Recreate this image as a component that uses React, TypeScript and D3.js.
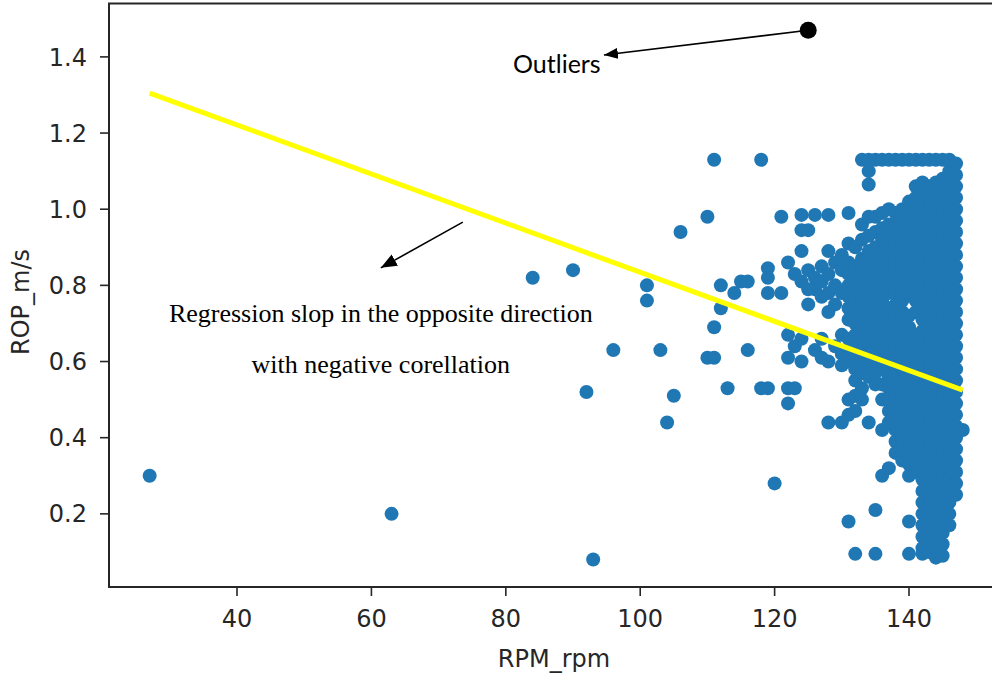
import React from 'react';
import * as d3 from 'd3';

const xTicks = [40, 60, 80, 100, 120, 140];
const yTicks = [0.2, 0.4, 0.6, 0.8, 1.0, 1.2, 1.4];
const xLabel = 'RPM_rpm';
const yLabel = 'ROP_m/s';

// isolated / loosely scattered observations
const sparseRpm = [27, 63, 84, 90, 92, 93, 96, 101, 101, 103, 104, 105, 106, 110, 111, 118, 110, 111, 111, 112, 112, 113, 114, 115, 116, 116, 118, 119, 119, 119, 119, 120, 121, 121, 122, 122, 123, 122, 124, 126, 128, 124, 125, 124, 128, 125, 128, 123, 124, 125, 126, 126, 127, 127, 128, 128, 129, 129, 130, 130, 130, 125, 127, 129, 122, 123, 124, 122, 124, 126, 127, 128, 129, 130, 130, 127, 130, 128, 130];
const sparseRop = [0.30, 0.20, 0.82, 0.84, 0.52, 0.08, 0.63, 0.80, 0.76, 0.63, 0.44, 0.51, 0.94, 0.98, 1.13, 1.13, 0.61, 0.61, 0.69, 0.80, 0.74, 0.53, 0.78, 0.81, 0.81, 0.63, 0.53, 0.53, 0.845, 0.82, 0.78, 0.28, 0.78, 0.98, 0.86, 0.53, 0.53, 0.49, 0.985, 0.985, 0.985, 0.945, 0.945, 0.89, 0.89, 0.75, 0.73, 0.83, 0.81, 0.84, 0.82, 0.79, 0.85, 0.81, 0.83, 0.78, 0.86, 0.80, 0.84, 0.78, 0.88, 0.79, 0.77, 0.75, 0.67, 0.64, 0.66, 0.61, 0.60, 0.63, 0.66, 0.60, 0.64, 0.62, 0.67, 0.61, 0.59, 0.44, 0.44];

// dense block of observations, listed per RPM value
const denseRpm = [131, 132, 133, 134, 135, 136, 137, 138, 139, 140, 141, 142, 143, 144, 145, 146, 147, 148];
const denseRop = [
  [0.99, 0.91, 0.86, 0.83, 0.8, 0.77, 0.74, 0.71, 0.66, 0.63, 0.6, 0.5, 0.46, 0.18],
  [0.9, 0.85, 0.82, 0.79, 0.76, 0.73, 0.7, 0.67, 0.64, 0.61, 0.58, 0.55, 0.51, 0.47, 0.095],
  [1.13, 0.96, 0.92, 0.87, 0.84, 0.81, 0.78, 0.75, 0.72, 0.69, 0.66, 0.63, 0.6, 0.57, 0.53, 0.5],
  [1.13, 1.1, 1.065, 0.98, 0.93, 0.89, 0.86, 0.83, 0.8, 0.77, 0.74, 0.71, 0.68, 0.65, 0.62, 0.59, 0.56, 0.44],
  [1.13, 0.98, 0.94, 0.9, 0.87, 0.84, 0.81, 0.78, 0.75, 0.72, 0.69, 0.66, 0.63, 0.6, 0.57, 0.54, 0.21, 0.095],
  [1.13, 0.99, 0.95, 0.92, 0.88, 0.85, 0.82, 0.79, 0.76, 0.73, 0.7, 0.67, 0.64, 0.61, 0.58, 0.54, 0.5, 0.42, 0.3],
  [1.13, 1.0, 0.96, 0.93, 0.9, 0.87, 0.84, 0.81, 0.78, 0.74, 0.71, 0.68, 0.65, 0.62, 0.59, 0.56, 0.53, 0.5, 0.47, 0.44, 0.32],
  [1.13, 0.99, 0.96, 0.93, 0.9, 0.87, 0.84, 0.81, 0.78, 0.75, 0.72, 0.69, 0.66, 0.63, 0.6, 0.57, 0.54, 0.51, 0.48, 0.45, 0.42, 0.39, 0.36],
  [1.13, 1.0, 0.97, 0.94, 0.91, 0.88, 0.85, 0.82, 0.79, 0.76, 0.73, 0.7, 0.67, 0.64, 0.61, 0.58, 0.55, 0.52, 0.49, 0.46, 0.43, 0.4, 0.37, 0.34],
  [1.13, 1.02, 0.99, 0.96, 0.93, 0.9, 0.87, 0.84, 0.81, 0.78, 0.72, 0.69, 0.66, 0.63, 0.6, 0.57, 0.54, 0.51, 0.48, 0.45, 0.42, 0.39, 0.36, 0.33, 0.3, 0.18, 0.095],
  [1.13, 1.06, 1.03, 1.0, 0.97, 0.94, 0.91, 0.88, 0.85, 0.82, 0.79, 0.76, 0.73, 0.67, 0.64, 0.61, 0.58, 0.55, 0.52, 0.49, 0.46, 0.43, 0.4, 0.37, 0.34, 0.31],
  [1.13, 1.07, 1.04, 1.01, 0.98, 0.95, 0.92, 0.89, 0.86, 0.83, 0.8, 0.77, 0.74, 0.71, 0.68, 0.65, 0.62, 0.59, 0.56, 0.53, 0.5, 0.47, 0.44, 0.41, 0.38, 0.35, 0.32, 0.29, 0.26, 0.23, 0.2, 0.17, 0.14, 0.11, 0.095],
  [1.13, 1.06, 1.03, 1.0, 0.97, 0.94, 0.91, 0.88, 0.85, 0.82, 0.79, 0.76, 0.73, 0.7, 0.67, 0.64, 0.61, 0.58, 0.55, 0.52, 0.49, 0.46, 0.43, 0.4, 0.37, 0.34, 0.31, 0.28, 0.25, 0.22, 0.19, 0.16, 0.13, 0.1],
  [1.13, 1.07, 1.04, 1.01, 0.98, 0.95, 0.92, 0.89, 0.86, 0.83, 0.8, 0.77, 0.74, 0.71, 0.68, 0.65, 0.62, 0.59, 0.56, 0.53, 0.5, 0.47, 0.44, 0.41, 0.38, 0.35, 0.32, 0.29, 0.26, 0.23, 0.2, 0.17, 0.14, 0.11, 0.085],
  [1.13, 1.08, 1.05, 1.02, 0.99, 0.96, 0.93, 0.9, 0.87, 0.84, 0.81, 0.78, 0.75, 0.72, 0.69, 0.66, 0.63, 0.6, 0.57, 0.54, 0.51, 0.48, 0.45, 0.42, 0.39, 0.36, 0.33, 0.3, 0.27, 0.24, 0.21, 0.18, 0.15, 0.12, 0.09],
  [1.13, 1.1, 1.07, 1.04, 1.01, 0.98, 0.95, 0.92, 0.89, 0.86, 0.83, 0.8, 0.77, 0.74, 0.71, 0.68, 0.65, 0.62, 0.59, 0.56, 0.53, 0.5, 0.47, 0.44, 0.41, 0.38, 0.35, 0.32, 0.29, 0.26, 0.23, 0.2, 0.17],
  [1.12, 1.09, 1.06, 1.03, 1.0, 0.97, 0.94, 0.91, 0.88, 0.85, 0.82, 0.79, 0.76, 0.73, 0.7, 0.67, 0.64, 0.61, 0.58, 0.55, 0.52, 0.49, 0.46, 0.43, 0.4, 0.37, 0.34, 0.31, 0.28, 0.25],
  [0.42],
];

const regressionRpm = [27, 148];
const regressionRop = [1.305, 0.525];

const outlierRpm = [125];
const outlierRop = [1.47];

// annotations (in data units)
const outlierArrowFrom = [125, 1.47];
const outlierArrowTo = [94.6, 1.405];
const outlierLabel = 'Outliers';
const outlierLabelAt = [81.07, 1.358];
const slopeArrowFrom = [73.6, 0.966];
const slopeArrowTo = [61.4, 0.846];
const slopeLines = ['Regression slop in the opposite direction', 'with negative corellation'];
const slopeLabelRpm = 61.4;
const slopeLabelRop = [0.704, 0.57];

export default function App() {
  const W = 992;
  const H = 679;
  const L = 109, R = 999, T = 3.5, B = 587;
  const x = d3.scaleLinear().domain([20.95, 153.39]).range([L, R]);
  const y = d3.scaleLinear().domain([0.0079, 1.5402]).range([B, T]);

  const pts: [number, number][] = [];
  sparseRpm.forEach((r, i) => pts.push([r, sparseRop[i]]));
  denseRpm.forEach((r, i) => denseRop[i].forEach((v) => pts.push([r, v])));

  const line = d3.line<[number, number]>().x((d) => x(d[0])).y((d) => y(d[1]));
  const reg: [number, number][] = regressionRpm.map((r, i) => [r, regressionRop[i]]);

  const axisColor = '#262626';
  const tickFont = 'DejaVu Sans';
  const fs = 24;

  return (
    <svg width={W} height={H} style={{ position: 'absolute', left: 0, top: 0, background: '#fff' }}>
      <defs>
        <marker id="ah1" markerUnits="userSpaceOnUse" markerWidth={15} markerHeight={11} refX={14} refY={5.5} orient="auto">
          <path d="M0,0 L14,5.5 L0,11 Z" fill="#000" />
        </marker>
        <marker id="ah2" markerUnits="userSpaceOnUse" markerWidth={17} markerHeight={13} refX={16} refY={6.5} orient="auto">
          <path d="M0,0 L16,6.5 L0,13 Z" fill="#000" />
        </marker>
      </defs>
      <rect x={0} y={0} width={W} height={H} fill="#fff" />

      {pts.map((p, i) => (
        <circle key={i} cx={x(p[0])} cy={y(p[1])} r={7} fill="#1f77b4" />
      ))}

      <path d={line(reg) || ''} stroke="#ffff00" strokeWidth={5} fill="none" />

      {outlierRpm.map((r, i) => (
        <circle key={'o' + i} cx={x(r)} cy={y(outlierRop[i])} r={8.5} fill="#000" />
      ))}

      {/* frame */}
      <rect x={L} y={T} width={R - L} height={B - T} fill="none" stroke={axisColor} strokeWidth={2} />

      {xTicks.map((t) => (
        <g key={'x' + t}>
          <line x1={x(t)} x2={x(t)} y1={B} y2={B + 9} stroke={axisColor} strokeWidth={1.6} />
          <text x={x(t)} y={627} textAnchor="middle" fontFamily={tickFont} fontSize={fs} fill={axisColor}>{t}</text>
        </g>
      ))}
      {yTicks.map((t) => (
        <g key={'y' + t}>
          <line x1={L - 9} x2={L} y1={y(t)} y2={y(t)} stroke={axisColor} strokeWidth={1.6} />
          <text x={87} y={y(t)} dy="0.36em" textAnchor="end" fontFamily={tickFont} fontSize={fs} fill={axisColor}>{t.toFixed(1)}</text>
        </g>
      ))}
      <text x={(L + R) / 2} y={667} textAnchor="middle" fontFamily={tickFont} fontSize={fs} fill={axisColor}>{xLabel}</text>
      <text transform={`translate(29,302) rotate(-90)`} textAnchor="middle" fontFamily={tickFont} fontSize={fs} fill={axisColor}>{yLabel}</text>

      {/* annotations */}
      <line x1={x(outlierArrowFrom[0])} y1={y(outlierArrowFrom[1])} x2={x(outlierArrowTo[0])} y2={y(outlierArrowTo[1])} stroke="#000" strokeWidth={1.6} markerEnd="url(#ah1)" />
      <text x={x(outlierLabelAt[0])} y={y(outlierLabelAt[1])} fontFamily="Lato" fontSize={25} fill="#000">{outlierLabel}</text>
      <line x1={x(slopeArrowFrom[0])} y1={y(slopeArrowFrom[1])} x2={x(slopeArrowTo[0])} y2={y(slopeArrowTo[1])} stroke="#000" strokeWidth={1.6} markerEnd="url(#ah2)" />
      {slopeLines.map((s, i) => (
        <text key={'s' + i} x={x(slopeLabelRpm)} y={y(slopeLabelRop[i])} textAnchor="middle" fontFamily="Liberation Serif" fontSize={26} fill="#000">{s}</text>
      ))}
    </svg>
  );
}
